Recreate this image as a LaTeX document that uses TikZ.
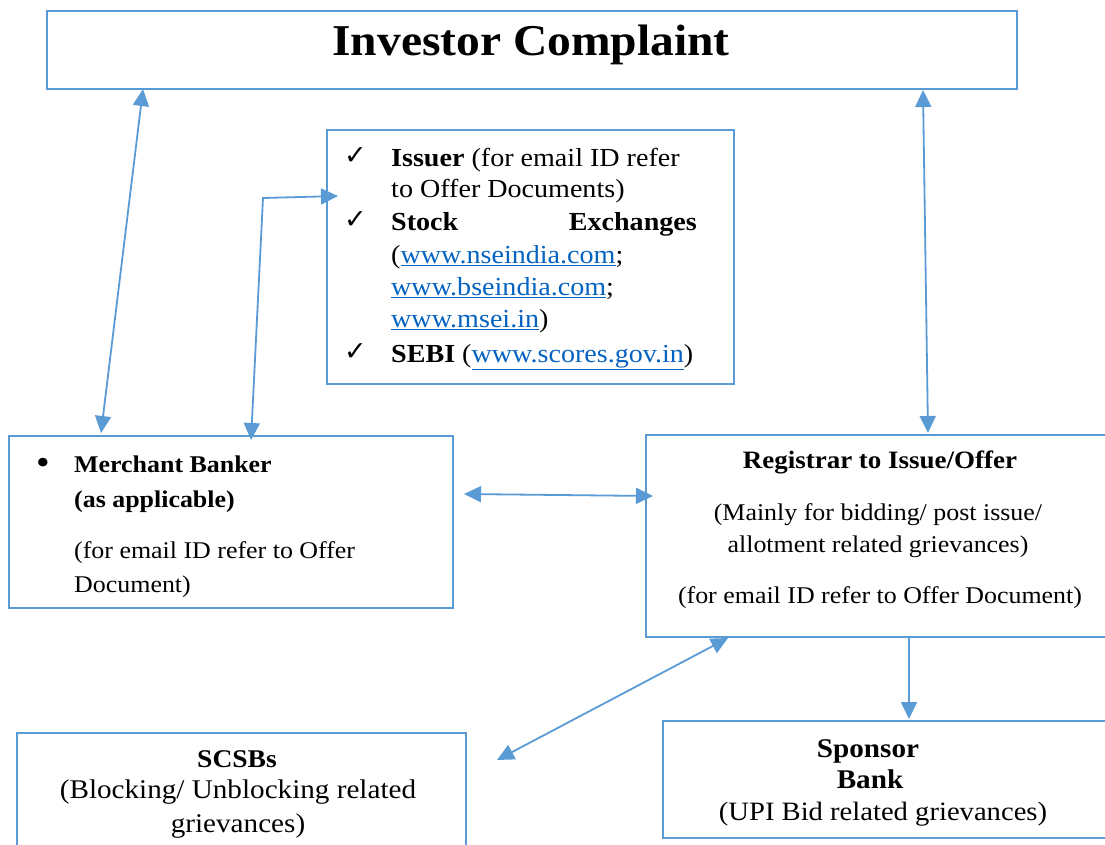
\documentclass[tikz,border=0pt]{standalone}
\usepackage{fontspec}
\setmainfont[FakeStretch=1.08]{Liberation Serif}
\newfontfamily\symfont{DejaVu Sans}
\usetikzlibrary{arrows.meta}
\definecolor{boxblue}{RGB}{91,155,213}
\definecolor{linkblue}{RGB}{5,99,193}
\newcommand{\lnk}[1]{\textcolor{linkblue}{\underline{#1}}}
\newcommand{\fs}[1]{\fontsize{#1}{#1}\selectfont}
\tikzset{
  panel/.style={draw=boxblue, line width=2.2pt, fill=white, inner sep=0pt, anchor=north west},
  conn/.style={draw=boxblue, line width=1.8pt, {Triangle[length=17pt,width=16pt]}-{Triangle[length=17pt,width=16pt]}},
  conn1/.style={draw=boxblue, line width=1.8pt, -{Triangle[length=17pt,width=16pt]}},
  txt/.style={inner sep=0pt, anchor=base west},
  ctxt/.style={inner sep=0pt, anchor=base},
  chk/.style={inner sep=0pt, anchor=base west, font=\symfont\bfseries\fontsize{27}{27}\selectfont},
}
\begin{document}
\begin{tikzpicture}[x=1pt,y=-1pt]
\useasboundingbox[fill=white] (0,0) rectangle (1105,844);
% boxes
\node[panel, minimum width=970pt, minimum height=78pt] (ic) at (46,10) {};
\node[panel, minimum width=407pt, minimum height=254pt] (iss) at (326,129) {};
\node[panel, minimum width=444pt, minimum height=172pt] (mb) at (8,435) {};
\node[panel, minimum width=480pt, minimum height=202pt] (reg) at (645,434) {};
\node[panel, minimum width=449pt, minimum height=130pt] (scsb) at (16,732) {};
\node[panel, minimum width=460pt, minimum height=117pt] (sp) at (662,720) {};
% title
\node[ctxt] (ict) at (531,55) {\fs{44}\bfseries Investor Complaint};
% issuer box
\node[chk] (c1) at (344,164) {✓};
\node[txt] (i1) at (391,166) {\fs{26}\textbf{Issuer} (for email ID refer};
\node[txt] (i2) at (391,197) {\fs{26}to Offer Documents)};
\node[chk] (c2) at (344,228) {✓};
\node[txt] (i3a) at (391,230) {\fs{26}\bfseries Stock};
\node[inner sep=0pt, anchor=base east] (i3b) at (697,230) {\fs{26}\bfseries Exchanges};
\node[txt] (i4) at (391,263) {\fs{26}(\lnk{www.nseindia.com};};
\node[txt] (i5) at (391,295) {\fs{26}\lnk{www.bseindia.com};};
\node[txt] (i6) at (391,327) {\fs{26}\lnk{www.msei.in})};
\node[chk] (c3) at (344,360) {✓};
\node[txt] (i7) at (391,362) {\fs{26}\textbf{SEBI} (\lnk{www.scores.gov.in})};
% merchant banker
\node[ctxt] (b1) at (43,474) {\fs{36}\textbullet};
\node[txt] (m1) at (74,472) {\fs{24}\bfseries Merchant Banker};
\node[txt] (m2) at (74,507) {\fs{24}\bfseries (as applicable)};
\node[txt] (m3) at (74,558) {\fs{24}(for email ID refer to Offer};
\node[txt] (m4) at (74,592) {\fs{24}Document)};
% registrar
\node[ctxt] (r1) at (880,468) {\fs{25}\bfseries Registrar to Issue/Offer};
\node[ctxt] (r2) at (878,520) {\fs{24}(Mainly for bidding/ post issue/};
\node[ctxt] (r3) at (878,552) {\fs{24}allotment related grievances)};
\node[ctxt] (r4) at (880,603) {\fs{24}(for email ID refer to Offer Document)};
% scsbs
\node[ctxt] (s1) at (237,767) {\fs{25.5}\bfseries SCSBs};
\node[ctxt] (s2) at (238,798) {\fs{27}(Blocking/ Unblocking related};
\node[ctxt] (s3) at (238,832) {\fs{27}grievances)};
% sponsor
\node[ctxt] (p1) at (868,757) {\fs{27}\bfseries Sponsor};
\node[ctxt] (p2) at (870,788) {\fs{27}\bfseries Bank};
\node[ctxt] (p3) at (883,820) {\fs{26.5}(UPI Bid related grievances)};
% connector end points
\coordinate (a1s) at (143,89);
\coordinate (a1e) at (101,433);
\coordinate (a2s) at (251,440);
\coordinate (a2c) at (263,198);
\coordinate (a2e) at (338,196);
\coordinate (a3s) at (923,90);
\coordinate (a3e) at (928,433);
\coordinate (a4s) at (464,494);
\coordinate (a4e) at (653,496);
\coordinate (a5s) at (728,638);
\coordinate (a5e) at (497,760);
\coordinate (a6s) at (909,636);
\coordinate (a6e) at (909,719);
% connectors
\draw[conn] (a1s) -- (a1e);
\draw[conn] (a2s) -- (a2c) -- (a2e);
\draw[conn] (a3s) -- (a3e);
\draw[conn] (a4s) -- (a4e);
\draw[conn] (a5s) -- (a5e);
\draw[conn1] (a6s) -- (a6e);
\end{tikzpicture}
\end{document}
